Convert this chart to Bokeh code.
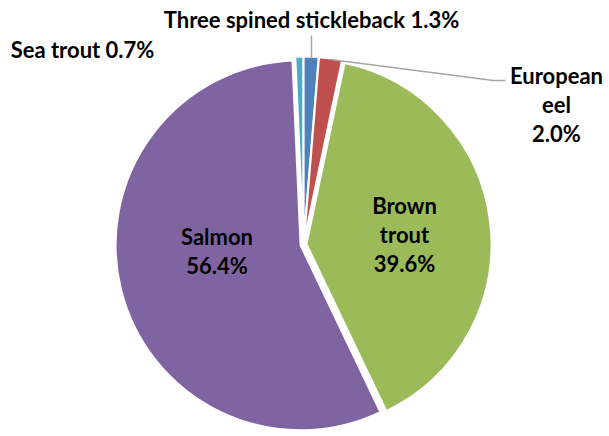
import math
from bokeh.plotting import figure
from bokeh.models import Range1d, ColumnDataSource
from bokeh.core.properties import value
from bokeh.embed import file_html
from bokeh.resources import INLINE

# ---- data ----
categories = ["Sea trout", "Three spined stickleback", "European eel", "Brown trout", "Salmon"]
percent = [0.7, 1.3, 2.0, 39.6, 56.4]
colors = ["#4BACC6", "#4F81BD", "#C0504D", "#9BBB59", "#8064A2"]

# ---- layout (pixels of the picture, converted to plot units) ----
W, H = 609, 436
def px(xr):
    return xr
def py(yr):
    return H - yr

CX, CY = px(303), py(244)
R = 185
EXPLODE = 3
start_deg = -percent[0] * 3.6  # stickleback starts at 12 o'clock

xs, ys, starts, ends = [], [], [], []
acc = start_deg
for v in percent:
    t1 = acc
    t2 = acc + v * 3.6
    acc = t2
    mid = math.radians((t1 + t2) / 2)
    xs.append(CX + EXPLODE * math.sin(mid))
    ys.append(CY + EXPLODE * math.cos(mid))
    starts.append(math.pi / 2 - math.radians(t2))
    ends.append(math.pi / 2 - math.radians(t1))

src = ColumnDataSource(dict(x=xs, y=ys, start=starts, end=ends, color=colors,
                            name=categories, pct=percent))

p = figure(width=W, height=H, x_range=Range1d(0, W), y_range=Range1d(0, H),
           output_backend="svg", toolbar_location=None,
           x_axis_location=None, y_axis_location=None, min_border=0)
p.grid.visible = False
p.outline_line_color = None
p.background_fill_color = "white"
p.border_fill_color = "white"

p.wedge(x="x", y="y", radius=R, start_angle="start", end_angle="end",
        fill_color="color", line_color="white", line_width=2, source=src)

# leader lines
p.line(x=[px(311), px(311)], y=[py(35), py(57)], line_color="#A6A6A6", line_width=1.5)
p.line(x=[px(330), px(493), px(505)], y=[py(59), py(80), py(80)], line_color="#A6A6A6", line_width=1.5)

# labels: (centre x, first baseline) in picture px, and whether multi-line
label_layout = {
    "Sea trout": (82, 49, False),
    "Three spined stickleback": (311, 19, False),
    "European eel": (556, 75, True),
    "Brown trout": (404, 205, True),
    "Salmon": (216.5, 236, True),
}
LINE_GAP = 29
tx, ty, tt = [], [], []
for name, v in zip(categories, percent):
    x0, b0, multi = label_layout[name]
    if multi:
        lines = name.split() + [f"{v:.1f}%"]
    else:
        lines = [f"{name} {v:.1f}%"]
    for i, ln in enumerate(lines):
        tx.append(px(x0))
        ty.append(py(b0 + i * LINE_GAP))
        tt.append(ln)

p.text(x=tx, y=ty, text=tt, text_font=value("Lato"), text_font_style="bold",
       text_font_size="22px", text_align="center", text_baseline="alphabetic",
       text_color="#000000")

open("out.html", "w").write(file_html(p, INLINE))
